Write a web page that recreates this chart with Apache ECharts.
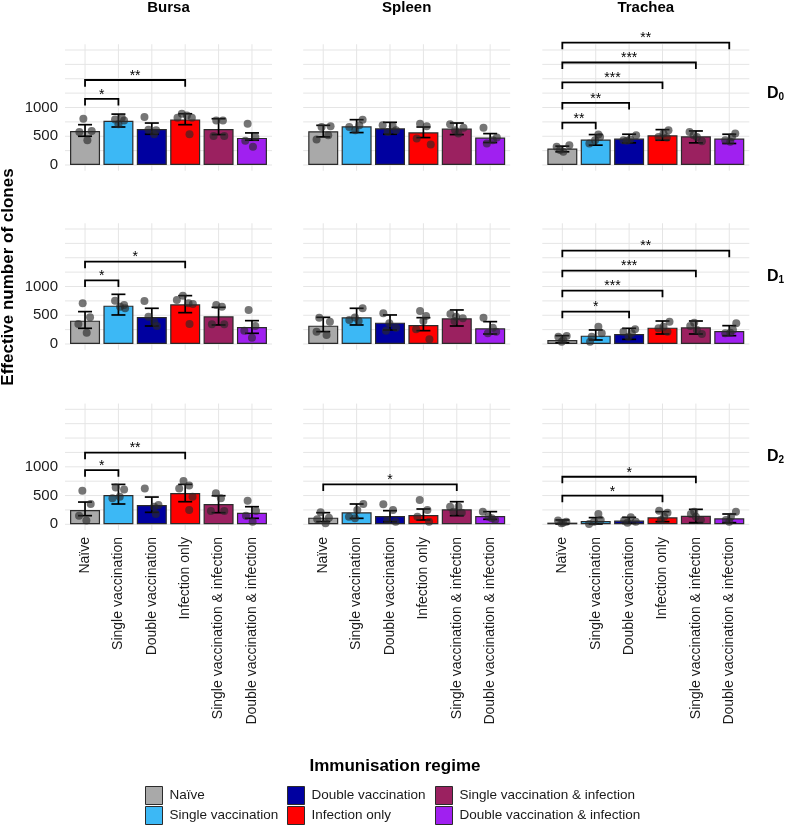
<!DOCTYPE html>
<html><head><meta charset="utf-8">
<script src="https://cdn.jsdelivr.net/npm/echarts@6/dist/echarts.min.js"></script>
<style>html,body{margin:0;padding:0;background:#fff}#c{width:785px;height:825px}</style>
</head><body><div id="c"></div>
<script>
const categories = ['Naïve','Single vaccination','Double vaccination','Infection only','Single vaccination & infection','Double vaccination & infection'];
const organs = ['Bursa','Spleen','Trachea'];
const dayLabels = ['0','1','2'];
const barColors = ['#A9A9A9','#3CB8F5','#0000A0','#FF0000','#9B2160','#A020F0'];
const yTickLabels = [0, 500, 1000];
const gridLineValues = [0,250,500,750,1000,1250,1500,1750,2000];
const xPositions = [1,2,3,4,5,6];

// ---- Bursa ----
const bursaMean = [[592,770,627,793,627,471],[406,667,470,690,481,296],[249,509,335,543,353,202]];
const bursaLow  = [[500,661,535,701,529,431],[273,505,313,545,331,186],[150,353,208,393,202,104]];
const bursaHigh = [[701,885,730,891,805,558],[563,864,621,841,638,406],[387,694,474,694,497,306]];
const bursaPoints = [
 [[805,575,592,431],[793,822,776,707],[834,615,604,535],[891,862,822,822,535],[776,776,506,506],[718,489,420,316]],
 [[708,464,348,197],[754,679,650,621],[748,476,389,313],[841,766,708,696,348],[679,650,342,342],[592,313,232,110]],
 [[584,353,150,64],[642,607,480,451],[624,335,306,179],[751,624,676,480,249],[538,451,231,231],[410,231,150,46]]
];
const bursaJitter = [
 [[-0.05,-0.17,0.20,0.07],[-0.10,0.10,0.17,0.0],[-0.22,-0.10,0.13,0.07],[-0.10,0.05,0.20,-0.23,0.13],[-0.07,0.13,-0.15,0.17],[-0.13,0.10,-0.20,0.03]],
 [[-0.07,0.15,-0.20,0.05],[-0.10,0.17,0.05,0.20],[-0.22,-0.10,0.07,0.15],[-0.07,-0.25,0.10,0.23,0.13],[-0.07,0.10,-0.20,0.17],[-0.10,0.10,-0.23,0.0]],
 [[-0.08,0.17,-0.18,0.04],[-0.08,0.17,0.04,-0.18],[-0.21,0.20,0.07,0.12],[-0.05,-0.18,0.12,0.22,0.12],[-0.08,0.07,-0.23,0.17],[-0.13,0.12,-0.18,0.02]]
];
const bursaSig = [[[0,1,1150,'*'],[0,3,1478,'**']],[[0,1,1108,'*'],[0,3,1433,'*']],[[0,1,942,'*'],[0,3,1248,'**']]];

// ---- Spleen ----
const spleenMean = [[587,673,638,569,633,477],[319,464,371,331,447,273],[116,208,145,162,260,145]];
const spleenLow  = [[489,564,535,477,529,391],[215,331,244,232,313,174],[46,104,46,75,150,87]];
const spleenHigh = [[690,788,742,661,730,546],[464,621,505,458,592,389],[202,353,237,266,393,220]];
const spleenPoints = [
 [[443,661,673,518],[661,788,604,690],[690,673,575,604],[718,673,460,356],[707,650,604,546],[650,477,374,431]],
 [[458,389,215,157],[621,418,400,460],[534,360,284,232],[574,487,400,255,81],[522,476,447,400],[458,284,186,215]],
 [[208,116,87,17],[353,133,249,104],[347,249,75,46],[422,249,133,46],[306,306,220,202],[220,75,133,104]]
];
const spleenJitter = [
 [[-0.20,-0.05,0.22,0.15],[-0.22,0.18,-0.04,0.08],[-0.22,0.08,-0.07,0.18],[-0.10,0.10,-0.20,0.22],[-0.20,0.20,-0.05,0.05],[-0.20,0.20,-0.10,0.08]],
 [[-0.12,0.20,-0.20,0.10],[0.18,-0.22,0.06,-0.05],[-0.20,-0.02,0.18,-0.12],[-0.10,0.08,0.0,-0.22,0.18],[-0.19,-0.02,0.18,-0.07],[-0.20,0.08,-0.07,0.18]],
 [[-0.08,0.17,-0.18,0.07],[0.20,-0.23,0.02,-0.05],[-0.20,0.09,-0.08,0.17],[-0.11,0.12,-0.18,0.17],[-0.20,0.05,-0.10,0.15],[-0.22,0.15,-0.05,0.05]]
];
const spleenSig = [[],[],[[0,4,694,'*']]];

// ---- Trachea ----
const tracheaMean = [[288,443,460,518,500,460],[70,145,174,284,290,226],[29,58,64,121,150,104]];
const tracheaLow  = [[230,345,385,431,385,374],[23,70,81,174,174,145],[6,6,17,46,29,29]];
const tracheaHigh = [[328,529,535,615,592,535],[145,244,273,400,400,319],[75,116,121,220,260,179]];
const tracheaPoints = [
 [[316,345,230,259],[529,374,431,489],[518,431,443,420],[604,489,546,477],[575,414,489,518],[546,431,403,489]],
 [[128,139,41,70],[302,128,41,186],[255,215,128,186],[389,273,302,215],[313,371,174,244],[360,186,197,244]],
 [[64,46,17,29],[179,6,46,75],[121,64,29,46],[237,133,202,75],[179,133,75,220],[220,75,133,46]]
];
const tracheaJitter = [
 [[-0.17,0.21,0.03,-0.07],[0.08,-0.19,-0.02,0.13],[0.21,-0.17,0.03,-0.07],[0.18,-0.12,0.03,0.13],[-0.19,0.18,0.03,-0.07],[0.18,-0.12,0.03,0.08]],
 [[-0.12,0.13,-0.02,0.03],[0.08,-0.12,-0.17,0.18],[0.18,-0.17,-0.02,0.08],[0.21,-0.12,0.03,0.15],[-0.17,-0.05,0.18,0.03],[0.21,-0.12,0.03,0.11]],
 [[-0.13,0.12,-0.03,0.02],[0.08,-0.20,-0.05,0.15],[0.05,-0.15,-0.05,0.20],[-0.10,0.05,0.15,-0.05],[-0.15,0.0,0.15,-0.05],[0.20,-0.10,0.05,0.0]]
];
const tracheaSig = [
 [[0,1,736,'**'],[0,2,1081,'**'],[0,3,1438,'***'],[0,4,1783,'***'],[0,5,2128,'**']],
 [[0,2,563,'*'],[0,3,928,'***'],[0,4,1276,'***'],[0,5,1624,'**']],
 [[0,3,497,'*'],[0,4,827,'*']]
];

const meanBy = [bursaMean, spleenMean, tracheaMean];
const lowBy = [bursaLow, spleenLow, tracheaLow];
const highBy = [bursaHigh, spleenHigh, tracheaHigh];
const pointsBy = [bursaPoints, spleenPoints, tracheaPoints];
const jitterBy = [bursaJitter, spleenJitter, tracheaJitter];
const sigBy = [bursaSig, spleenSig, tracheaSig];

// ---- layout ----
const FONT = 'Liberation Sans, Arial, Helvetica, sans-serif';
const colLeft = [65, 303.2, 542.3];
const rowZero = [165, 344, 524.3];
const pxPerUnit = 0.0575;
const yMin = -100, yMax = 2100;
const xMin = 0.4, xMax = 6.6;
const panelW = 207;
const panelH = (yMax - yMin) * pxPerUnit;
const legLen = 115;
const gridColor = '#E5E5E5';

const grids = [], xAxes = [], yAxes = [], series = [];
for (let r = 0; r < 3; r++) {
  for (let c = 0; c < 3; c++) {
    const gi = r * 3 + c;
    grids.push({ left: colLeft[c], top: rowZero[r] - yMax * pxPerUnit, width: panelW, height: panelH, containLabel: false });
    xAxes.push({
      gridIndex: gi, type: 'value', min: xMin, max: xMax,
      axisLine: { show: false }, axisTick: { show: false }, splitLine: { show: false },
      axisLabel: {
        show: r === 2, customValues: xPositions, rotate: 90, margin: 7,
        fontSize: 14, color: '#1a1a1a', fontFamily: FONT,
        formatter: v => categories[Math.round(v) - 1] || ''
      }
    });
    yAxes.push({
      gridIndex: gi, type: 'value', min: yMin, max: yMax,
      axisLine: { show: false }, axisTick: { show: false }, splitLine: { show: false },
      axisLabel: { show: c === 0, customValues: yTickLabels, margin: 7, fontSize: 15, color: '#1a1a1a', fontFamily: FONT,
        formatter: v => String(Math.round(v)) }
    });
    // gridlines
    series.push({
      type: 'custom', xAxisIndex: gi, yAxisIndex: gi, z: 0, silent: true,
      data: gridLineValues.map(v => [v]),
      renderItem: (p, api) => {
        const v = api.value(0);
        const a = api.coord([xMin, v]), b = api.coord([xMax, v]);
        return { type: 'line', shape: { x1: a[0], y1: a[1], x2: b[0], y2: b[1] }, style: { stroke: gridColor, lineWidth: 1 } };
      }
    });
    series.push({
      type: 'custom', xAxisIndex: gi, yAxisIndex: gi, z: 0, silent: true,
      data: xPositions.map(v => [v]),
      renderItem: (p, api) => {
        const v = api.value(0);
        const a = api.coord([v, yMin]), b = api.coord([v, yMax]);
        return { type: 'line', shape: { x1: a[0], y1: a[1], x2: b[0], y2: b[1] }, style: { stroke: gridColor, lineWidth: 1 } };
      }
    });
    // bars
    for (let k = 0; k < 6; k++) {
      series.push({
        type: 'bar', name: categories[k], xAxisIndex: gi, yAxisIndex: gi, z: 2,
        barWidth: 30, barGap: '-100%',
        itemStyle: { color: barColors[k], borderColor: '#2b2b2b', borderWidth: 1.2 },
        data: [[xPositions[k], meanBy[c][r][k]]]
      });
    }
    // error bars
    series.push({
      type: 'custom', xAxisIndex: gi, yAxisIndex: gi, z: 3, silent: true,
      data: xPositions.map((x, k) => [x, lowBy[c][r][k], highBy[c][r][k]]),
      renderItem: (p, api) => {
        const x = api.value(0);
        const lo = api.coord([x, api.value(1)]), hi = api.coord([x, api.value(2)]);
        const hw = 7, st = { stroke: '#000', lineWidth: 1.7 };
        return { type: 'group', children: [
          { type: 'line', shape: { x1: lo[0], y1: lo[1], x2: hi[0], y2: hi[1] }, style: st },
          { type: 'line', shape: { x1: lo[0] - hw, y1: lo[1], x2: lo[0] + hw, y2: lo[1] }, style: st },
          { type: 'line', shape: { x1: hi[0] - hw, y1: hi[1], x2: hi[0] + hw, y2: hi[1] }, style: st }
        ]};
      }
    });
    // points
    const pts = [];
    for (let k = 0; k < 6; k++) {
      pointsBy[c][r][k].forEach((v, j) => pts.push([xPositions[k] + jitterBy[c][r][k][j], v]));
    }
    series.push({
      type: 'scatter', xAxisIndex: gi, yAxisIndex: gi, z: 4, silent: true,
      symbolSize: 8, itemStyle: { color: 'rgba(40,40,40,0.8)' }, data: pts
    });
    // significance brackets
    const sig = sigBy[c][r];
    if (sig.length) {
      series.push({
        type: 'custom', xAxisIndex: gi, yAxisIndex: gi, z: 5, silent: true, clip: false,
        data: sig.map(s => [xPositions[s[0]], xPositions[s[1]], s[2]]),
        renderItem: (p, api) => {
          const x1 = api.value(0), x2 = api.value(1), y = api.value(2);
          const a = api.coord([x1, y - legLen]), b = api.coord([x1, y]);
          const cc = api.coord([x2, y]), d = api.coord([x2, y - legLen]);
          const mid = api.coord([(x1 + x2) / 2, y]);
          return { type: 'group', children: [
            { type: 'polyline', shape: { points: [a, b, cc, d] }, style: { stroke: '#000', lineWidth: 1.8, fill: null } },
            { type: 'text', x: mid[0], y: mid[1] - 4, style: { text: sig[p.dataIndex][3], fontSize: 14, fontFamily: FONT, fill: '#000', align: 'center', verticalAlign: 'middle' } }
          ]};
        }
      });
    }
  }
}

const titles = organs.map((o, c) => ({
  text: o, left: colLeft[c] + panelW / 2, top: 0, textAlign: 'center', padding: 0,
  textStyle: { fontSize: 15, fontWeight: 'bold', color: '#000', fontFamily: FONT }
}));

const dayBaseline = [100, 283, 463];
const graphics = dayLabels.map((d, r) => ({
  type: 'text', left: 767, top: dayBaseline[r] - 14,
  style: { text: '{d|D}{s|' + d + '}', rich: {
    d: { fontSize: 16, fontWeight: 'bold', fill: '#000', fontFamily: FONT, verticalAlign: 'bottom' },
    s: { fontSize: 10, fontWeight: 'bold', fill: '#000', fontFamily: FONT, verticalAlign: 'bottom', padding: [0, 0, 0, 0] }
  } }
}));
graphics.push({
  type: 'text', x: 8, y: 277, rotation: Math.PI / 2,
  style: { text: 'Effective number of clones', fontSize: 17, fontWeight: 'bold', fill: '#000', fontFamily: FONT, align: 'center', verticalAlign: 'middle' }
});
graphics.push({
  type: 'text', x: 395, y: 766,
  style: { text: 'Immunisation regime', fontSize: 17, fontWeight: 'bold', fill: '#000', fontFamily: FONT, align: 'center', verticalAlign: 'middle' }
});

const legendCols = [145, 287, 435];
const legends = legendCols.map((left, i) => ({
  orient: 'vertical', left: left, top: 786, padding: 0, itemGap: 1,
  itemWidth: 17, itemHeight: 18, icon: 'rect', selectedMode: false,
  itemStyle: { borderColor: '#2b2b2b', borderWidth: 1 },
  textStyle: { fontSize: 13.5, color: '#1a1a1a', fontFamily: FONT, padding: [0, 0, 0, 2] },
  data: [categories[i * 2], categories[i * 2 + 1]]
}));

const chart = echarts.init(document.getElementById('c'), null, { renderer: 'canvas' });
chart.setOption({
  animation: false,
  backgroundColor: '#fff',
  textStyle: { fontFamily: FONT },
  title: titles,
  legend: legends,
  grid: grids, xAxis: xAxes, yAxis: yAxes,
  series: series,
  graphic: graphics
});
</script></body></html>
